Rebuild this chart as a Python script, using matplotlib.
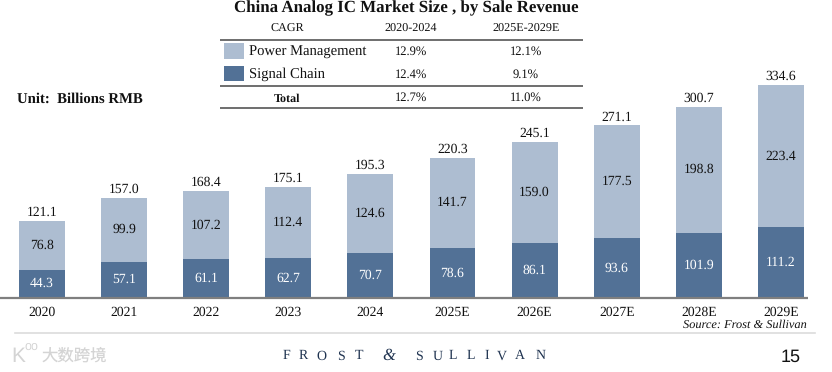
import matplotlib
matplotlib.use("Agg")
import matplotlib.pyplot as plt

plt.rcParams["font.family"] = ["Liberation Serif", "DejaVu Serif"]
plt.rcParams["text.hinting"] = "none"

years = ["2020", "2021", "2022", "2023", "2024", "2025E", "2026E", "2027E", "2028E", "2029E"]
signal_chain = [44.3, 57.1, 61.1, 62.7, 70.7, 78.6, 86.1, 93.6, 101.9, 111.2]
power_mgmt = [76.8, 99.9, 107.2, 112.4, 124.6, 141.7, 159.0, 177.5, 198.8, 223.4]
totals = [121.1, 157.0, 168.4, 175.1, 195.3, 220.3, 245.1, 271.1, 300.7, 334.6]

cagr_header = ["CAGR", "2020-2024", "2025E-2029E"]
cagr_power = ["Power Management", "12.9%", "12.1%"]
cagr_signal = ["Signal Chain", "12.4%", "9.1%"]
cagr_total = ["Total", "12.7%", "11.0%"]

W, H = 832, 372
BASE_Y = 298      # pixel row of the axis line
PX_PER_UNIT = 0.6366
STEP = 82.1
FIRST_X = 42

LIGHT = "#adbdd1"
DARK = "#527196"
LINE = "#7f7f7f"
TXT = "#111111"

fig = plt.figure(figsize=(W / 100, H / 100), dpi=100, facecolor="white")

# bars: data axes covering the whole figure
ax = fig.add_axes([0, 0, 1, 1])
ax.set_xlim(-FIRST_X / STEP, (W - FIRST_X) / STEP)
ax.set_ylim(-(H - BASE_Y) / PX_PER_UNIT, BASE_Y / PX_PER_UNIT)
ax.axis("off")

x = range(len(years))
ax.bar(x, signal_chain, width=0.56, color=DARK)
ax.bar(x, power_mgmt, width=0.56, bottom=signal_chain, color=LIGHT)

for i in x:
    ax.text(i, signal_chain[i] / 2, f"{signal_chain[i]:.1f}", ha="center", va="center",
            fontsize=9.8, color="white")
    ax.text(i, signal_chain[i] + power_mgmt[i] / 2, f"{power_mgmt[i]:.1f}", ha="center", va="center",
            fontsize=9.8, color=TXT)
    ax.text(i, totals[i] + 3, f"{totals[i]:.1f}", ha="center", va="bottom", fontsize=9.8, color=TXT)
    ax.text(i, -22, years[i], ha="center", va="center", fontsize=9.8, color=TXT)

# everything else is placed in pixels, origin top left
ov = fig.add_axes([0, 0, 1, 1])
ov.set_xlim(0, W)
ov.set_ylim(H, 0)
ov.axis("off")
ov.patch.set_alpha(0)

ov.plot([0, 808], [BASE_Y, BASE_Y], color=LINE, lw=1.6, solid_capstyle="butt")
ov.plot([15, 815], [333, 333], color="#dcdcdc", lw=1.2)

ov.text(406, 8, "China Analog IC Market Size , by Sale Revenue", ha="center", va="center",
        fontsize=12.2, fontweight="bold", color=TXT)

# CAGR table
col_x = [287, 411, 526]
ov.text(col_x[0], 29, cagr_header[0], ha="center", va="center", fontsize=8.7, color=TXT)
ov.text(col_x[1], 29, cagr_header[1], ha="center", va="center", fontsize=8.7, color=TXT)
ov.text(col_x[2], 29, cagr_header[2], ha="center", va="center", fontsize=8.7, color=TXT)
for yy in [40, 85.5, 108]:
    ov.plot([220, 583], [yy, yy], color="#555555", lw=1.2, solid_capstyle="butt")

ov.fill_between([224, 244], 43, 58.5, color=LIGHT, lw=0)
ov.fill_between([224, 244], 66, 81, color=DARK, lw=0)
ov.text(249, 52.5, cagr_power[0], ha="left", va="center", fontsize=10.5, color=TXT)
ov.text(249, 74.5, cagr_signal[0], ha="left", va="center", fontsize=10.5, color=TXT)
ov.text(411, 52, cagr_power[1], ha="center", va="center", fontsize=9, color=TXT)
ov.text(526, 52, cagr_power[2], ha="center", va="center", fontsize=9, color=TXT)
ov.text(411, 75, cagr_signal[1], ha="center", va="center", fontsize=9, color=TXT)
ov.text(526, 75, cagr_signal[2], ha="center", va="center", fontsize=9, color=TXT)
ov.text(287, 98.5, cagr_total[0], ha="center", va="center", fontsize=8.7, fontweight="bold", color=TXT)
ov.text(411, 98, cagr_total[1], ha="center", va="center", fontsize=9, color=TXT)
ov.text(526, 98, cagr_total[2], ha="center", va="center", fontsize=9, color=TXT)

ov.text(17, 99.5, "Unit:  Billions RMB", ha="left", va="center", fontsize=10.6, fontweight="bold", color=TXT)
ov.text(807, 325, "Source: Frost & Sullivan", ha="right", va="center", fontsize=8.9, style="italic", color=TXT)

# footer, logo letters are spaced by hand
logo = "FROST&SULLIVAN"
logo_x = [286, 303, 321, 341, 359, 389, 419, 438, 453, 471, 487, 502, 520, 541]
for ch, lx in zip(logo, logo_x):
    ov.text(lx, 356, ch, ha="center", va="center", fontsize=12 if ch == "&" else 10,
            style="italic" if ch == "&" else "normal", color="#1f3350")
ov.text(791, 357, "15", ha="center", va="center", fontsize=13, family="Liberation Sans", color="#111111")

# watermark
ov.text(42, 356, "大数跨境", ha="left", va="center", fontsize=11.8, color="#d4d4d4",
        family=["Noto Sans CJK SC", "DejaVu Sans"])
ov.text(18, 357, "K", ha="center", va="center", fontsize=15, color="#d4d4d4", family="Liberation Sans")
ov.text(31, 347, "oo", ha="center", va="center", fontsize=9, color="#d4d4d4", family="Liberation Sans")

fig.savefig("out.png", dpi=100)
